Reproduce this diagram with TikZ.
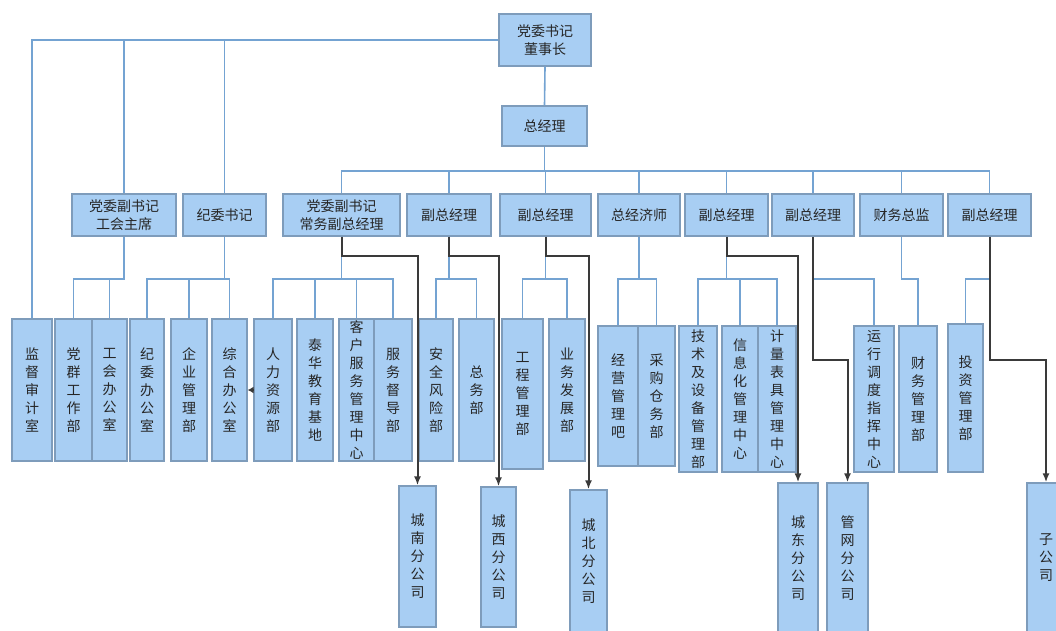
\documentclass[tikz,border=0pt]{standalone}
\usepackage{fontspec}
\setmainfont{Noto Sans CJK SC}
\usetikzlibrary{arrows.meta}
\definecolor{boxfill}{HTML}{A8CEF3}
\definecolor{boxline}{HTML}{7E9CBB}
\definecolor{bline}{HTML}{74A3D2}
\definecolor{dline}{HTML}{3A3A3A}
\definecolor{txt}{HTML}{262626}
\tikzset{
  box/.style={draw=boxline, fill=boxfill, line width=1.3pt, inner sep=0pt, text=txt,
    align=center, font=\fontsize{14}{18}\selectfont},
  bl/.style={draw=bline, line width=1.6pt},
  dk/.style={draw=dline, line width=2pt, -{Latex[length=9pt,width=7pt]}},
}
\newcommand\mybox[6]{\node[box,minimum width={(#4-#2)*1pt},minimum height={(#5-#3)*1pt}] (#1) at ({(#2+#4)/2},{(#3+#5)/2}) {#6};}
\begin{document}
\begin{tikzpicture}[x=1pt,y=-1pt]
\useasboundingbox[fill=white] (0,0) rectangle (1056,630);
% helper levels
\coordinate (bus) at (0,171);
\coordinate (yA) at (0,256);
\coordinate (yB) at (0,279);
\coordinate (yD) at (0,360);
\coordinate (yE) at (0,390);
% top
\mybox{top}{499}{14}{591}{66}{党委书记\\董事长}
\mybox{zjl}{502}{106}{587}{146}{总经理}
% row 2
\mybox{ghzx}{72}{194}{176}{236}{党委副书记\\工会主席}
\mybox{jwsj}{183}{194}{266}{236}{纪委书记}
\mybox{cw}{283}{194}{400}{236}{党委副书记\\常务副总经理}
\mybox{fz1}{407}{194}{491}{236}{副总经理}
\mybox{fz2}{500}{194}{591}{236}{副总经理}
\mybox{zjs}{598}{194}{680}{236}{总经济师}
\mybox{fz3}{685}{194}{768}{236}{副总经理}
\mybox{fz4}{772}{194}{854}{236}{副总经理}
\mybox{cwzj}{860}{194}{943}{236}{财务总监}
\mybox{fz5}{948}{194}{1031}{236}{副总经理}
% row 3
\mybox{jd}{12}{319}{52}{461}{监\\督\\审\\计\\室}
\mybox{dq}{55}{319}{92}{461}{党\\群\\工\\作\\部}
\mybox{ghb}{92}{319}{127}{461}{工\\会\\办\\公\\室}
\mybox{jwb}{130}{319}{164}{461}{纪\\委\\办\\公\\室}
\mybox{qygl}{171}{319}{207}{461}{企\\业\\管\\理\\部}
\mybox{zhbg}{212}{319}{247}{461}{综\\合\\办\\公\\室}
\mybox{rlzy}{254}{319}{292}{461}{人\\力\\资\\源\\部}
\mybox{thjy}{297}{319}{333}{461}{泰\\华\\教\\育\\基\\地}
\mybox{khfw}{339}{319}{374}{461}{客\\户\\服\\务\\管\\理\\中\\心}
\mybox{fwdd}{374}{319}{412}{461}{服\\务\\督\\导\\部}
\mybox{aqfx}{419}{319}{453}{461}{安\\全\\风\\险\\部}
\mybox{zwb}{459}{319}{494}{461}{总\\务\\部}
\mybox{gcgl}{502}{319}{543}{469}{工\\程\\管\\理\\部}
\mybox{ywfz}{549}{319}{585}{461}{业\\务\\发\\展\\部}
\mybox{jygl}{598}{326}{638}{466}{经\\营\\管\\理\\吧}
\mybox{cgcw}{638}{326}{675}{466}{采\\购\\仓\\务\\部}
\mybox{jssb}{679}{326}{717}{472}{技\\术\\及\\设\\备\\管\\理\\部}
\mybox{xxh}{722}{326}{758}{472}{信\\息\\化\\管\\理\\中\\心}
\mybox{jlbj}{758}{326}{796}{472}{计\\量\\表\\具\\管\\理\\中\\心}
\mybox{yxdd}{854}{326}{894}{472}{运\\行\\调\\度\\指\\挥\\中\\心}
\mybox{cwgl}{899}{326}{937}{472}{财\\务\\管\\理\\部}
\mybox{tzgl}{948}{324}{983}{472}{投\\资\\管\\理\\部}
% row 4
\mybox{cn}{399}{486}{436}{627}{城\\南\\分\\公\\司}
\mybox{cx}{481}{487}{516}{627}{城\\西\\分\\公\\司}
\mybox{cb}{570}{490}{607}{633}{城\\北\\分\\公\\司}
\mybox{cd}{778}{483}{818}{633}{城\\东\\分\\公\\司}
\mybox{gw}{827}{483}{868}{633}{管\\网\\分\\公\\司}
\mybox{zgs}{1027}{483}{1065}{633}{子\\公\\司}
% top connectors
\draw[bl] (top.west) -| (jd.north);
\draw[bl] (top.west) -| (ghzx.north);
\draw[bl] (top.west) -| (jwsj.north);
\draw[bl] (top.south) -- (zjl.north);
\foreach \n in {cw,fz1,fz2,zjs,fz3,fz4,cwzj,fz5}
  \draw[bl] (zjl.south) -- (zjl.south |- bus) -| (\n.north);
% row 2 -> row 3
\foreach \p/\c in {ghzx/dq,ghzx/ghb,jwsj/jwb,jwsj/qygl,jwsj/zhbg,
  cw/rlzy,cw/thjy,cw/khfw,cw/fwdd,fz1/aqfx,fz1/zwb,fz2/gcgl,fz2/ywfz,
  zjs/jygl,zjs/cgcw,fz3/jssb,fz3/xxh,fz3/jlbj,fz4/yxdd,cwzj/cwgl,fz5/tzgl}
  \draw[bl] (\p.south) -- (\p.south |- yB) -| (\c.north);
% dark arrows to branch companies
\foreach \p/\c in {cw/cn,fz1/cx,fz2/cb,fz3/cd}
  \draw[dk] (\p.south) -- (\p.south |- yA) -| (\c.north);
\foreach \p/\c in {fz4/gw,fz5/zgs}
  \draw[dk] (\p.south) -- (\p.south |- yD) -| (\c.north);
% small arrow between 人力资源部 and 综合办公室
\draw[draw=dline, line width=1.5pt, -{Latex[length=6pt,width=7pt]}] (rlzy.west |- yE) -- (zhbg.east |- yE);
\end{tikzpicture}
\end{document}
